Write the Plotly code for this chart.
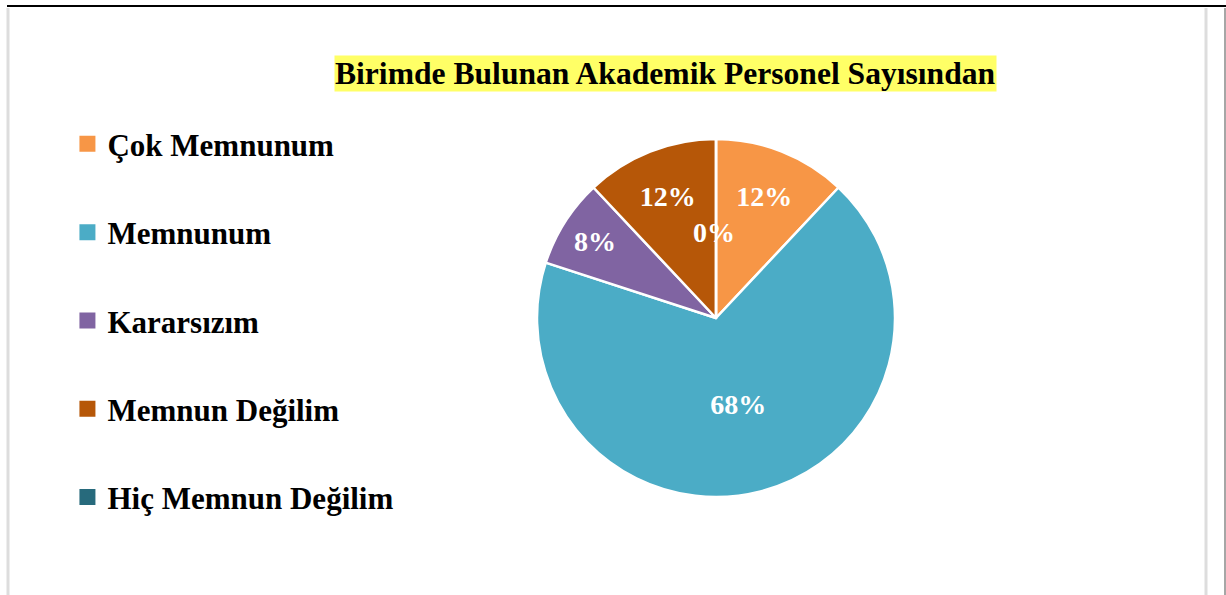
import math
import plotly.graph_objects as go

categories = ["Çok Memnunum", "Memnunum", "Kararsızım", "Memnun Değilim", "Hiç Memnun Değilim"]
values = [12, 68, 8, 12, 0]
colors = ["#F79646", "#4BACC6", "#8064A2", "#B65708", "#276A7C"]
title_text = "Birimde Bulunan Akademik Personel Sayısından"

FONT = "Liberation Serif"
W, H = 1226, 595
CX, CY, R = 716, 318, 179  # pie centre / radius in px

fig = go.Figure()

fig.add_trace(go.Pie(
    labels=categories,
    values=values,
    sort=False,
    direction="clockwise",
    rotation=0,
    marker=dict(colors=colors, line=dict(color="white", width=2.5)),
    texttemplate="%{percent:.0%}",
    textposition="inside",
    insidetextorientation="horizontal",
    textfont=dict(family=FONT, size=28, color="white", weight="bold"),
    showlegend=False,
    domain=dict(x=[(CX - R) / W, (CX + R) / W], y=[(H - CY - R) / H, (H - CY + R) / H]),
    hoverinfo="label+percent",
))

for name, col in zip(categories, colors):
    fig.add_trace(go.Scatter(
        x=[None], y=[None], mode="markers", name=name,
        marker=dict(symbol="square", size=16, color=col),
        legendgroup=name, showlegend=True,
    ))

annotations = [dict(
    text=title_text, x=665 / W, y=1 - 73 / H, xref="paper", yref="paper",
    xanchor="center", yanchor="middle", showarrow=False,
    font=dict(family=FONT, size=31.6, color="black", weight="bold"),
    bgcolor="#FFFF66", borderpad=0,
)]

# labels for zero-valued slices (plotly does not draw text for them)
total = sum(values)
cum = 0
for v in values:
    if v == 0:
        ang = math.radians(cum / total * 360)
        rr = 0.48 * R
        px = CX + rr * math.sin(ang) - 2
        py = CY - rr * math.cos(ang)
        annotations.append(dict(
            text=f"{round(v / total * 100)}%", x=px / W, y=1 - py / H,
            xref="paper", yref="paper", xanchor="center", yanchor="middle",
            showarrow=False, font=dict(family=FONT, size=28, color="white", weight="bold"),
        ))
    cum += v

fig.update_layout(
    width=W, height=H,
    margin=dict(l=0, r=0, t=0, b=0),
    paper_bgcolor="white", plot_bgcolor="white",
    xaxis=dict(visible=False), yaxis=dict(visible=False),
    legend=dict(
        x=0.055, y=0.803, xanchor="left", yanchor="top",
        font=dict(family=FONT, size=31, color="black", weight="bold"),
        tracegroupgap=45, itemsizing="trace",
        bgcolor="rgba(0,0,0,0)",
    ),
    annotations=annotations,
    shapes=[
        dict(type="line", xref="paper", yref="paper", x0=7 / W, x1=1, y0=1 - 6 / H, y1=1 - 6 / H,
             line=dict(color="black", width=2)),
        dict(type="line", xref="paper", yref="paper", x0=8 / W, x1=8 / W, y0=0, y1=1 - 8 / H,
             line=dict(color="#DDDDDD", width=3)),
        dict(type="line", xref="paper", yref="paper", x0=1206 / W, x1=1206 / W, y0=0, y1=1 - 8 / H,
             line=dict(color="#DDDDDD", width=3)),
        dict(type="line", xref="paper", yref="paper", x0=1225 / W, x1=1225 / W, y0=0, y1=1 - 8 / H,
             line=dict(color="#888888", width=1.5)),
    ],
)

fig.write_html(
    "out.html",
    config={"displayModeBar": False},
    post_script="document.body.style.margin='0';document.body.style.padding='0';document.body.style.overflow='hidden';",
)
